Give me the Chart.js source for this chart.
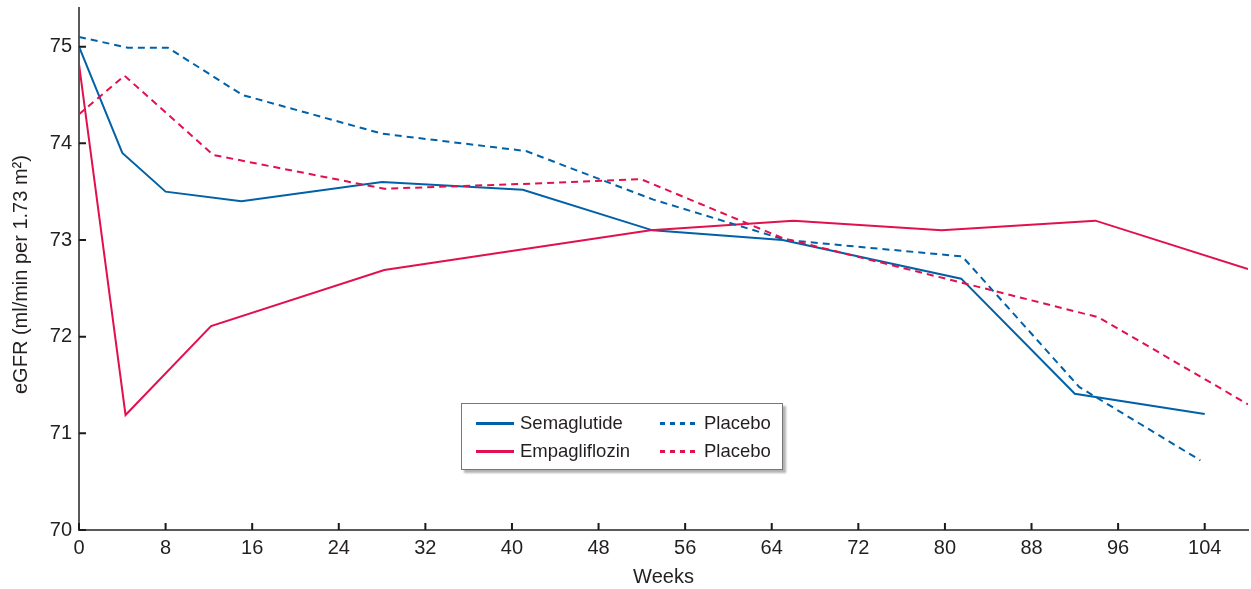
<!DOCTYPE html>
<html>
<head>
<meta charset="utf-8">
<title>eGFR over time</title>
<script src="https://cdn.jsdelivr.net/npm/chart.js@4/dist/chart.umd.min.js"></script>
<style>
    body { margin: 0; background: #fff; }
    #wrap { position: relative; width: 1251px; height: 589px; }
    .legend-box {
        position: absolute; left: 461px; top: 403px; width: 320px; height: 65px;
        border: 1px solid #777; background: #fff;
        box-shadow: 3px 3px 2px rgba(0, 0, 0, 0.3);
        font-family: "Liberation Sans", Arial, sans-serif; font-size: 18.5px; color: #231f20;
    }
    .legend-box span { position: absolute; line-height: 22px; white-space: nowrap; }
    .legend-box .swatch { position: absolute; height: 2.5px; }
</style>
</head>
<body>
<div id="wrap">
    <canvas id="egfr-chart"></canvas>
    <div class="legend-box" id="legend"></div>
</div>
<script>
// Values (weeks, eGFR)
const semaWeeks = [0, 4, 8, 15, 28, 41, 53, 65, 81.5, 92, 104];
const semaValues = [75.0, 73.9, 73.5, 73.4, 73.6, 73.52, 73.1, 73.0, 72.6, 71.41, 71.2];

const empaWeeks = [0, 4.3, 12.2, 28.2, 52.8, 66, 79.7, 93.9, 108];
const empaValues = [74.82, 71.19, 72.11, 72.69, 73.1, 73.2, 73.1, 73.2, 72.7];

const placeboSemaWeeks = [0, 4.5, 8.2, 15.1, 28, 41.3, 53, 65.3, 81.6, 92.4, 103.6];
const placeboSemaValues = [75.1, 74.99, 74.99, 74.5, 74.1, 73.92, 73.42, 73.0, 72.83, 71.48, 70.72];

const placeboEmpaWeeks = [0, 4.2, 12.4, 28.2, 41, 51.9, 65, 81.5, 94.2, 108];
const placeboEmpaValues = [74.3, 74.7, 73.88, 73.53, 73.58, 73.63, 73.02, 72.56, 72.2, 71.3];

const xTicks = [0, 8, 16, 24, 32, 40, 48, 56, 64, 72, 80, 88, 96, 104];
const yTicks = [70, 71, 72, 73, 74, 75];

const BLUE = '#0061a8';
const RED = '#e1104e';
const TEXT = '#231f20';
const FONT = '"Liberation Sans", Arial, sans-serif';

function toPoints(xs, ys) {
    return xs.map((x, i) => ({ x: x, y: ys[i] }));
}

// Short tick marks pointing into the plot area
const inwardTicks = {
    id: 'inwardTicks',
    afterDraw(chart) {
        const ctx = chart.ctx;
        const xs = chart.scales.x;
        const ys = chart.scales.y;
        const area = chart.chartArea;
        ctx.save();
        ctx.strokeStyle = '#1a1a1a';
        ctx.lineWidth = 2;
        ctx.beginPath();
        xTicks.forEach(v => {
            const px = xs.getPixelForValue(v);
            ctx.moveTo(px, area.bottom);
            ctx.lineTo(px, area.bottom - 7);
        });
        yTicks.forEach(v => {
            const py = ys.getPixelForValue(v);
            ctx.moveTo(area.left, py);
            ctx.lineTo(area.left + 7, py);
        });
        ctx.stroke();
        ctx.restore();
    }
};

const lineStyle = { borderWidth: 2, pointRadius: 0, tension: 0, fill: false };

new Chart(document.getElementById('egfr-chart'), {
    type: 'line',
    data: {
        datasets: [
            { label: 'Placebo', data: toPoints(placeboEmpaWeeks, placeboEmpaValues), borderColor: RED, borderDash: [7, 5], ...lineStyle },
            { label: 'Placebo', data: toPoints(placeboSemaWeeks, placeboSemaValues), borderColor: BLUE, borderDash: [7, 5], ...lineStyle },
            { label: 'Empagliflozin', data: toPoints(empaWeeks, empaValues), borderColor: RED, ...lineStyle },
            { label: 'Semaglutide', data: toPoints(semaWeeks, semaValues), borderColor: BLUE, ...lineStyle }
        ]
    },
    options: {
        responsive: true,
        maintainAspectRatio: false,
        animation: false,
        layout: { padding: { top: 8, right: 3, left: 0, bottom: 0 } },
        plugins: {
            legend: { display: false },
            tooltip: { enabled: false }
        },
        scales: {
            x: {
                type: 'linear',
                min: 0,
                max: 108,
                afterBuildTicks: scale => { scale.ticks = xTicks.map(v => ({ value: v })); },
                afterFit: scale => { scale.height = 59; scale.paddingLeft = 0; scale.paddingRight = 0; },
                grid: { display: false, drawTicks: false },
                border: { display: true, color: '#5a5a5a', width: 2 },
                ticks: { color: TEXT, font: { family: FONT, size: 20 }, padding: 6, maxRotation: 0 },
                title: { display: true, text: 'Weeks', color: TEXT, font: { family: FONT, size: 20 }, padding: { top: 0, bottom: 0 } }
            },
            y: {
                min: 70,
                max: 75.4,
                afterBuildTicks: scale => { scale.ticks = yTicks.map(v => ({ value: v })); },
                afterFit: scale => { scale.width = 79; scale.paddingTop = 0; scale.paddingBottom = 0; },
                grid: { display: false, drawTicks: false },
                border: { display: true, color: '#5a5a5a', width: 2 },
                ticks: { color: TEXT, font: { family: FONT, size: 20 }, padding: 7 },
                title: { display: true, text: 'eGFR (ml/min per 1.73 m\u00b2)  ', color: TEXT, font: { family: FONT, size: 20 }, padding: { top: 9, bottom: 0 } }
            }
        }
    },
    plugins: [inwardTicks]
});

// Legend laid out in two columns like the figure
const legendItems = [
    { label: 'Semaglutide', color: BLUE, dashed: false, left: 14, top: 19 },
    { label: 'Empagliflozin', color: RED, dashed: false, left: 14, top: 47 },
    { label: 'Placebo', color: BLUE, dashed: true, left: 198, top: 19 },
    { label: 'Placebo', color: RED, dashed: true, left: 198, top: 47 }
];
const legend = document.getElementById('legend');
legendItems.forEach(item => {
    const sw = document.createElement('div');
    sw.className = 'swatch';
    sw.style.left = item.left + 'px';
    sw.style.top = (item.top - 1) + 'px';
    sw.style.width = '38px';
    sw.style.background = item.dashed
        ? `repeating-linear-gradient(to right, ${item.color} 0 5px, transparent 5px 10px)`
        : item.color;
    legend.appendChild(sw);

    const txt = document.createElement('span');
    txt.textContent = item.label;
    txt.style.left = (item.left + 44) + 'px';
    txt.style.top = (item.top - 11) + 'px';
    legend.appendChild(txt);
});
</script>
</body>
</html>
